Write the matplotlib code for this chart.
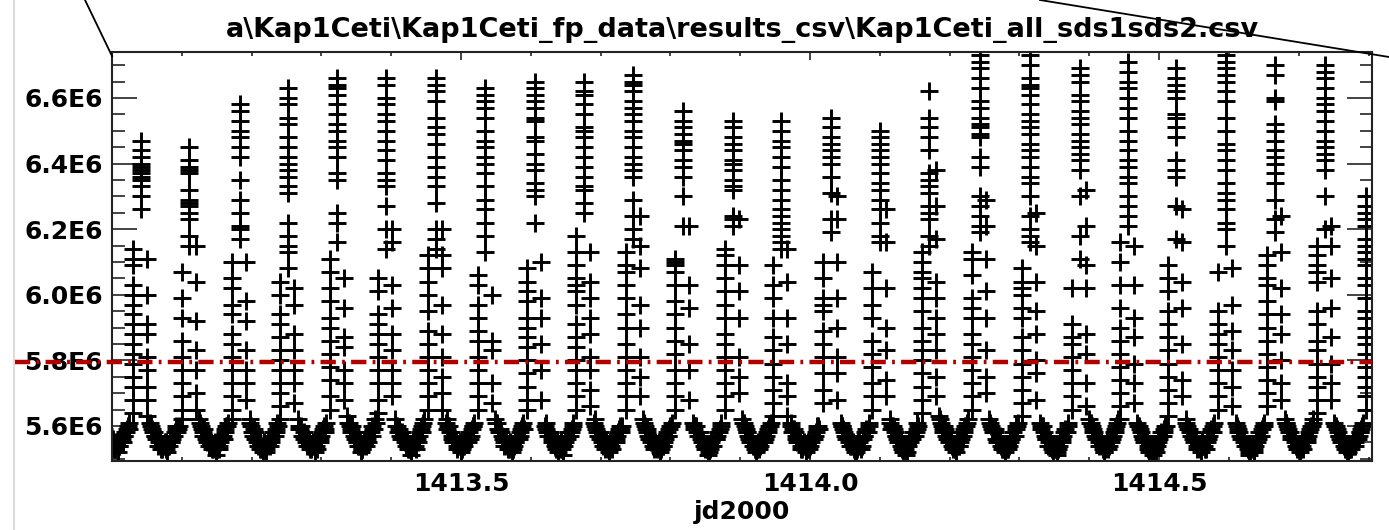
import numpy as np
import matplotlib
matplotlib.use('Agg')
from matplotlib import pyplot as plt
from matplotlib.lines import Line2D
from matplotlib.ticker import MultipleLocator

# ---- data (flux in units of 1E6) ----
title = r'a\Kap1Ceti\Kap1Ceti_fp_data\results_csv\Kap1Ceti_all_sds1sds2.csv'
x_label = 'jd2000'
x_ticks = [1413.5, 1414.0, 1414.5]
x_tick_labels = ['1413.5', '1414.0', '1414.5']
y_ticks = [5.6e6, 5.8e6, 6.0e6, 6.2e6, 6.4e6, 6.6e6]
y_tick_labels = ['5.6E6', '5.8E6', '6.0E6', '6.2E6', '6.4E6', '6.6E6']
x_range = (1413.0, 1414.805)
y_range = (5.493e6, 6.74e6)
threshold = 5.795e6

# start time (jd2000) of each burst
burst_start = [1412.959, 1413.030, 1413.100, 1413.172, 1413.241, 1413.312,
               1413.381, 1413.453, 1413.524, 1413.595, 1413.665, 1413.736,
               1413.807, 1413.878, 1413.947, 1414.019, 1414.089, 1414.160,
               1414.232, 1414.304, 1414.375, 1414.444, 1414.513, 1414.585,
               1414.655, 1414.726, 1414.797]

# rising edge of each burst
rise_vals = [
    [],
    [6.14, 6.11, 6.09, 6.03, 6.00, 5.97, 5.94, 5.91, 5.88, 5.85, 5.82, 5.79, 5.75, 5.72, 5.68, 5.64],
    [6.07, 5.99, 5.93, 5.86, 5.81, 5.77, 5.73, 5.69, 5.65, 5.62],
    [6.10, 6.05, 6.02, 5.97, 5.94, 5.88, 5.85, 5.81, 5.77, 5.73, 5.69, 5.65, 5.62],
    [6.04, 6.00, 5.94, 5.91, 5.87, 5.83, 5.80, 5.77, 5.73, 5.70, 5.66, 5.62],
    [6.11, 6.07, 6.02, 5.98, 5.93, 5.90, 5.86, 5.82, 5.78, 5.74, 5.69, 5.65],
    [6.05, 6.01, 5.94, 5.91, 5.88, 5.85, 5.81, 5.77, 5.73, 5.68, 5.64],
    [6.12, 6.08, 6.04, 6.00, 5.95, 5.89, 5.85, 5.81, 5.77, 5.73, 5.69, 5.65],
    [6.06, 6.03, 5.97, 5.93, 5.89, 5.86, 5.81, 5.77, 5.73, 5.69, 5.65],
    [6.08, 6.04, 6.01, 5.98, 5.93, 5.90, 5.87, 5.84, 5.80, 5.76, 5.72, 5.68, 5.65],
    [6.18, 6.13, 6.09, 6.05, 6.03, 6.01, 5.97, 5.91, 5.87, 5.84, 5.80, 5.77, 5.73, 5.69, 5.65],
    [6.13, 6.09, 6.07, 6.03, 5.99, 5.94, 5.90, 5.85, 5.81, 5.77, 5.73, 5.69, 5.65],
    [6.11, 6.10, 6.09, 6.07, 6.03, 5.98, 5.94, 5.90, 5.86, 5.82, 5.77, 5.73, 5.69, 5.65],
    [6.14, 6.12, 6.09, 6.05, 6.01, 5.97, 5.93, 5.88, 5.85, 5.81, 5.77, 5.73, 5.69, 5.65],
    [6.09, 6.03, 5.99, 5.93, 5.87, 5.83, 5.79, 5.75, 5.71, 5.67, 5.63],
    [6.10, 6.05, 5.99, 5.97, 5.95, 5.89, 5.85, 5.81, 5.76, 5.71, 5.67],
    [6.07, 6.02, 5.97, 5.93, 5.86, 5.82, 5.78, 5.73, 5.69, 5.65],
    [6.13, 6.10, 6.07, 6.05, 6.02, 5.99, 5.95, 5.90, 5.86, 5.83, 5.80, 5.76, 5.72, 5.68, 5.64],
    [6.13, 6.11, 6.06, 5.99, 5.96, 5.93, 5.88, 5.85, 5.81, 5.77, 5.73, 5.69, 5.65],
    [6.08, 6.04, 6.02, 6.00, 5.96, 5.93, 5.87, 5.83, 5.79, 5.75, 5.71, 5.67, 5.63],
    [6.02, 5.91, 5.87, 5.85, 5.81, 5.77, 5.73, 5.69, 5.65],
    [6.16, 6.10, 6.03, 5.96, 5.90, 5.86, 5.82, 5.78, 5.74, 5.70, 5.66, 5.62],
    [6.09, 6.05, 6.01, 5.95, 5.91, 5.87, 5.83, 5.79, 5.75, 5.71, 5.67, 5.63],
    [6.07, 5.95, 5.91, 5.88, 5.85, 5.81, 5.77, 5.73, 5.69, 5.65],
    [6.12, 6.09, 6.05, 6.03, 5.98, 5.94, 5.90, 5.86, 5.82, 5.78, 5.74, 5.70, 5.66],
    [6.15, 6.12, 6.09, 6.07, 6.04, 5.95, 5.91, 5.86, 5.83, 5.79, 5.75, 5.72, 5.68, 5.64],
    [6.30, 6.27, 6.25, 6.23, 6.21, 6.17, 6.15, 6.13, 6.11, 6.09, 6.05, 6.03, 5.99,
     5.95, 5.93, 5.90, 5.87, 5.85, 5.82, 5.78, 5.75, 5.72, 5.69, 5.65],
]

# top of each burst
peak_vals = [
    [],
    [6.47, 6.44, 6.42, 6.40, 6.39, 6.38, 6.37, 6.36, 6.35, 6.33, 6.30, 6.26],
    [6.45, 6.41, 6.39, 6.38, 6.37, 6.32, 6.29, 6.28, 6.27, 6.25, 6.23, 6.18, 6.15],
    [6.58, 6.56, 6.53, 6.50, 6.48, 6.45, 6.42, 6.35, 6.29, 6.25, 6.21, 6.20, 6.17],
    [6.63, 6.60, 6.58, 6.54, 6.52, 6.48, 6.45, 6.42, 6.40, 6.38, 6.36, 6.33, 6.31, 6.22, 6.18, 6.15, 6.13, 6.08],
    [6.66, 6.64, 6.63, 6.61, 6.58, 6.55, 6.52, 6.50, 6.47, 6.45, 6.42, 6.37, 6.35, 6.25, 6.22, 6.16],
    [6.66, 6.64, 6.60, 6.58, 6.55, 6.53, 6.50, 6.47, 6.44, 6.41, 6.37, 6.35, 6.33, 6.27, 6.20, 6.14],
    [6.66, 6.64, 6.62, 6.59, 6.54, 6.51, 6.49, 6.46, 6.42, 6.39, 6.36, 6.33, 6.28, 6.20, 6.17, 6.14],
    [6.63, 6.61, 6.59, 6.57, 6.54, 6.50, 6.47, 6.45, 6.42, 6.40, 6.37, 6.33, 6.29, 6.26, 6.22, 6.18, 6.13],
    [6.65, 6.63, 6.61, 6.59, 6.57, 6.54, 6.53, 6.48, 6.47, 6.43, 6.40, 6.38, 6.34, 6.32, 6.30, 6.22],
    [6.65, 6.62, 6.61, 6.58, 6.55, 6.51, 6.50, 6.48, 6.45, 6.42, 6.39, 6.36, 6.33, 6.32, 6.28, 6.25],
    [6.67, 6.65, 6.64, 6.62, 6.59, 6.57, 6.55, 6.53, 6.50, 6.48, 6.45, 6.42, 6.40, 6.38, 6.36, 6.29, 6.24, 6.20, 6.17],
    [6.56, 6.53, 6.51, 6.49, 6.47, 6.46, 6.44, 6.41, 6.39, 6.36, 6.30, 6.21],
    [6.53, 6.51, 6.48, 6.46, 6.44, 6.41, 6.40, 6.38, 6.35, 6.33, 6.32, 6.24, 6.23, 6.21],
    [6.53, 6.50, 6.47, 6.45, 6.42, 6.39, 6.35, 6.32, 6.29, 6.26, 6.24, 6.22, 6.20, 6.18, 6.16, 6.14],
    [6.54, 6.51, 6.48, 6.46, 6.44, 6.42, 6.40, 6.36, 6.31, 6.23, 6.19],
    [6.50, 6.48, 6.46, 6.44, 6.42, 6.40, 6.37, 6.34, 6.32, 6.29, 6.26, 6.22, 6.18, 6.16],
    [6.62, 6.54, 6.51, 6.48, 6.44, 6.37, 6.35, 6.33, 6.31, 6.27, 6.25, 6.23, 6.18, 6.15],
    [6.73, 6.71, 6.69, 6.66, 6.63, 6.59, 6.57, 6.54, 6.52, 6.51, 6.49, 6.48, 6.42, 6.39, 6.30, 6.27, 6.24, 6.21, 6.19],
    [6.73, 6.70, 6.66, 6.64, 6.63, 6.61, 6.58, 6.55, 6.53, 6.51, 6.49, 6.46, 6.44, 6.42, 6.39, 6.36, 6.34, 6.30, 6.24, 6.20, 6.18, 6.16],
    [6.69, 6.67, 6.65, 6.61, 6.59, 6.56, 6.54, 6.52, 6.49, 6.47, 6.45, 6.43, 6.41, 6.38, 6.30, 6.18, 6.11],
    [6.71, 6.68, 6.65, 6.63, 6.60, 6.57, 6.54, 6.50, 6.47, 6.44, 6.41, 6.39, 6.36, 6.34, 6.30, 6.27, 6.24, 6.21],
    [6.69, 6.66, 6.64, 6.62, 6.60, 6.55, 6.54, 6.51, 6.48, 6.41, 6.38, 6.36, 6.27, 6.17],
    [6.73, 6.71, 6.69, 6.67, 6.65, 6.62, 6.59, 6.54, 6.50, 6.46, 6.44, 6.41, 6.38, 6.34, 6.31, 6.29, 6.26, 6.22, 6.20, 6.15],
    [6.70, 6.67, 6.60, 6.59, 6.52, 6.50, 6.47, 6.44, 6.42, 6.40, 6.37, 6.34, 6.29, 6.23, 6.19],
    [6.70, 6.68, 6.66, 6.63, 6.60, 6.58, 6.56, 6.53, 6.50, 6.47, 6.45, 6.43, 6.41, 6.38, 6.30, 6.20],
    [],
]

# falling edge of each burst
fall_vals = [
    [],
    [6.11, 6.00, 5.91, 5.88, 5.81, 5.77, 5.72, 5.68, 5.63],
    [6.15, 6.04, 5.92, 5.83, 5.77, 5.70, 5.65],
    [6.10, 5.98, 5.92, 5.83, 5.77, 5.73, 5.68],
    [6.02, 5.97, 5.88, 5.83, 5.77, 5.73, 5.67],
    [6.05, 5.96, 5.87, 5.84, 5.77, 5.73, 5.68],
    [6.20, 6.16, 6.03, 5.96, 5.88, 5.83, 5.77, 5.73, 5.69],
    [6.20, 6.12, 6.08, 5.97, 5.88, 5.81, 5.75, 5.70, 5.65],
    [6.00, 5.86, 5.83, 5.73, 5.67],
    [6.10, 5.99, 5.93, 5.85, 5.77, 5.68],
    [6.13, 6.04, 5.99, 5.93, 5.88, 5.81, 5.77, 5.71, 5.66],
    [6.24, 6.15, 6.08, 5.97, 5.90, 5.81, 5.75, 5.69],
    [6.21, 6.03, 5.96, 5.85, 5.77, 5.68],
    [6.23, 6.09, 6.01, 5.93, 5.81, 5.75, 5.70],
    [6.14, 6.04, 5.93, 5.85, 5.73, 5.69, 5.63],
    [6.30, 6.23, 6.10, 5.99, 5.90, 5.81, 5.76, 5.68],
    [6.26, 6.16, 6.02, 5.90, 5.83, 5.74, 5.69],
    [6.38, 6.27, 6.17, 6.04, 5.99, 5.93, 5.88, 5.83, 5.75, 5.69],
    [6.29, 6.21, 6.11, 6.01, 5.93, 5.83, 5.75, 5.70],
    [6.25, 6.15, 6.04, 5.95, 5.88, 5.80, 5.76, 5.68],
    [6.32, 6.21, 6.09, 6.02, 5.88, 5.82, 5.73, 5.66],
    [6.15, 6.03, 5.93, 5.87, 5.79, 5.73, 5.67],
    [6.26, 6.16, 6.04, 5.96, 5.85, 5.74, 5.69],
    [6.08, 5.97, 5.89, 5.83, 5.77, 5.72, 5.66],
    [6.24, 6.13, 6.02, 5.94, 5.88, 5.80, 5.73, 5.68],
    [6.21, 6.15, 6.05, 5.96, 5.87, 5.79, 5.73, 5.68],
    [],
]

# quiet level between bursts, in time order (sds1 samples)
floor_vals = [
    [5.60, 5.58, 5.59, 5.56, 5.57, 5.55, 5.54, 5.56, 5.53, 5.55, 5.52, 5.54, 5.56, 5.55, 5.57, 5.58, 5.60, 5.59],
    [5.61, 5.59, 5.58, 5.57, 5.56, 5.55, 5.56, 5.53, 5.54, 5.55, 5.52, 5.54, 5.55, 5.56, 5.57, 5.59, 5.58, 5.60],
    [5.62, 5.60, 5.58, 5.59, 5.56, 5.57, 5.54, 5.55, 5.53, 5.54, 5.51, 5.55, 5.53, 5.56, 5.57, 5.58, 5.60, 5.61],
    [5.61, 5.60, 5.57, 5.58, 5.56, 5.54, 5.55, 5.53, 5.52, 5.54, 5.53, 5.55, 5.54, 5.56, 5.58, 5.57, 5.59, 5.60],
    [5.62, 5.59, 5.60, 5.57, 5.58, 5.55, 5.56, 5.54, 5.53, 5.55, 5.52, 5.54, 5.56, 5.55, 5.57, 5.59, 5.58, 5.61],
    [5.63, 5.61, 5.59, 5.60, 5.57, 5.56, 5.55, 5.54, 5.52, 5.53, 5.55, 5.54, 5.56, 5.57, 5.58, 5.60, 5.59, 5.61],
    [5.62, 5.60, 5.59, 5.57, 5.58, 5.56, 5.54, 5.55, 5.53, 5.51, 5.54, 5.55, 5.53, 5.56, 5.57, 5.59, 5.60, 5.62],
    [5.61, 5.59, 5.60, 5.58, 5.56, 5.57, 5.55, 5.53, 5.54, 5.52, 5.55, 5.54, 5.56, 5.55, 5.58, 5.57, 5.60, 5.61],
    [5.62, 5.61, 5.58, 5.59, 5.57, 5.55, 5.56, 5.54, 5.53, 5.55, 5.52, 5.54, 5.55, 5.57, 5.56, 5.58, 5.60, 5.59],
    [5.60, 5.59, 5.57, 5.58, 5.56, 5.55, 5.54, 5.55, 5.52, 5.53, 5.54, 5.51, 5.55, 5.56, 5.58, 5.57, 5.59, 5.61],
    [5.61, 5.60, 5.58, 5.57, 5.58, 5.55, 5.56, 5.53, 5.54, 5.52, 5.55, 5.53, 5.56, 5.55, 5.57, 5.59, 5.58, 5.60],
    [5.62, 5.60, 5.59, 5.57, 5.56, 5.57, 5.54, 5.55, 5.53, 5.54, 5.52, 5.55, 5.54, 5.56, 5.58, 5.57, 5.60, 5.61],
    [5.61, 5.59, 5.60, 5.57, 5.58, 5.56, 5.55, 5.53, 5.54, 5.51, 5.53, 5.55, 5.54, 5.57, 5.56, 5.58, 5.59, 5.60],
    [5.62, 5.61, 5.59, 5.58, 5.56, 5.57, 5.55, 5.54, 5.52, 5.54, 5.53, 5.55, 5.56, 5.55, 5.57, 5.58, 5.60, 5.61],
    [5.60, 5.58, 5.59, 5.57, 5.55, 5.56, 5.54, 5.53, 5.55, 5.52, 5.54, 5.53, 5.55, 5.57, 5.56, 5.58, 5.60, 5.59],
    [5.61, 5.60, 5.58, 5.56, 5.57, 5.55, 5.54, 5.55, 5.53, 5.52, 5.54, 5.55, 5.53, 5.56, 5.57, 5.59, 5.58, 5.61],
    [5.62, 5.59, 5.60, 5.58, 5.57, 5.55, 5.56, 5.54, 5.52, 5.53, 5.51, 5.54, 5.55, 5.56, 5.58, 5.57, 5.59, 5.60],
    [5.63, 5.61, 5.59, 5.60, 5.57, 5.58, 5.55, 5.56, 5.53, 5.54, 5.52, 5.55, 5.54, 5.56, 5.57, 5.59, 5.60, 5.62],
    [5.62, 5.60, 5.58, 5.59, 5.56, 5.55, 5.57, 5.54, 5.53, 5.52, 5.54, 5.53, 5.55, 5.56, 5.58, 5.57, 5.60, 5.61],
    [5.61, 5.59, 5.60, 5.57, 5.56, 5.54, 5.55, 5.53, 5.52, 5.54, 5.51, 5.53, 5.55, 5.56, 5.57, 5.59, 5.58, 5.61],
    [5.62, 5.61, 5.59, 5.58, 5.56, 5.57, 5.54, 5.55, 5.53, 5.52, 5.54, 5.53, 5.56, 5.55, 5.57, 5.58, 5.60, 5.62],
    [5.61, 5.60, 5.58, 5.57, 5.55, 5.56, 5.54, 5.52, 5.53, 5.51, 5.54, 5.52, 5.55, 5.56, 5.58, 5.57, 5.59, 5.60],
    [5.62, 5.60, 5.59, 5.57, 5.58, 5.55, 5.56, 5.53, 5.54, 5.52, 5.55, 5.54, 5.53, 5.56, 5.57, 5.59, 5.58, 5.61],
    [5.61, 5.59, 5.58, 5.56, 5.57, 5.55, 5.54, 5.53, 5.51, 5.53, 5.54, 5.52, 5.55, 5.56, 5.58, 5.57, 5.60, 5.61],
    [5.62, 5.61, 5.59, 5.58, 5.56, 5.57, 5.55, 5.53, 5.54, 5.52, 5.55, 5.53, 5.56, 5.55, 5.57, 5.59, 5.60, 5.62],
    [5.61, 5.60, 5.58, 5.57, 5.55, 5.56, 5.54, 5.53, 5.52, 5.54, 5.53, 5.55, 5.54, 5.57, 5.56, 5.58, 5.59, 5.61],
    [],
]

# quiet level, interleaved samples (sds2)
floor_vals_b = [
    [5.59, 5.57, 5.56, 5.55, 5.56, 5.54, 5.55, 5.54, 5.53, 5.55, 5.54, 5.55, 5.56, 5.57, 5.58, 5.59, 5.61],
    [5.60, 5.58, 5.57, 5.56, 5.54, 5.55, 5.53, 5.54, 5.55, 5.53, 5.54, 5.56, 5.55, 5.57, 5.58, 5.60, 5.59],
    [5.61, 5.59, 5.57, 5.57, 5.55, 5.56, 5.54, 5.53, 5.54, 5.55, 5.53, 5.54, 5.55, 5.57, 5.56, 5.59, 5.60],
    [5.62, 5.58, 5.59, 5.56, 5.55, 5.56, 5.53, 5.54, 5.55, 5.52, 5.54, 5.56, 5.55, 5.57, 5.58, 5.58, 5.61],
    [5.60, 5.59, 5.57, 5.56, 5.57, 5.54, 5.55, 5.53, 5.54, 5.54, 5.55, 5.53, 5.57, 5.56, 5.58, 5.60, 5.59],
    [5.61, 5.60, 5.58, 5.58, 5.56, 5.55, 5.54, 5.55, 5.53, 5.54, 5.56, 5.55, 5.55, 5.58, 5.57, 5.59, 5.62],
    [5.60, 5.58, 5.58, 5.56, 5.57, 5.55, 5.55, 5.53, 5.54, 5.53, 5.55, 5.54, 5.56, 5.55, 5.58, 5.58, 5.61],
    [5.62, 5.60, 5.58, 5.57, 5.55, 5.56, 5.54, 5.54, 5.55, 5.53, 5.54, 5.55, 5.55, 5.57, 5.56, 5.59, 5.60],
    [5.61, 5.59, 5.59, 5.58, 5.56, 5.54, 5.55, 5.53, 5.54, 5.54, 5.53, 5.55, 5.56, 5.56, 5.57, 5.59, 5.61],
    [5.61, 5.58, 5.58, 5.57, 5.55, 5.56, 5.53, 5.54, 5.54, 5.55, 5.53, 5.54, 5.56, 5.57, 5.57, 5.58, 5.60],
    [5.62, 5.59, 5.57, 5.56, 5.57, 5.54, 5.55, 5.55, 5.53, 5.54, 5.54, 5.55, 5.55, 5.56, 5.58, 5.60, 5.59],
    [5.61, 5.59, 5.58, 5.56, 5.55, 5.56, 5.53, 5.54, 5.54, 5.55, 5.53, 5.54, 5.55, 5.57, 5.57, 5.59, 5.60],
    [5.60, 5.60, 5.58, 5.58, 5.57, 5.55, 5.54, 5.54, 5.53, 5.52, 5.54, 5.54, 5.56, 5.56, 5.57, 5.58, 5.61],
    [5.61, 5.60, 5.58, 5.57, 5.55, 5.56, 5.54, 5.53, 5.53, 5.55, 5.54, 5.56, 5.55, 5.56, 5.58, 5.59, 5.60],
    [5.61, 5.59, 5.58, 5.56, 5.56, 5.55, 5.53, 5.54, 5.54, 5.53, 5.55, 5.54, 5.56, 5.56, 5.57, 5.59, 5.60],
    [5.60, 5.59, 5.57, 5.57, 5.56, 5.54, 5.55, 5.54, 5.52, 5.53, 5.55, 5.54, 5.54, 5.57, 5.58, 5.58, 5.60],
    [5.61, 5.60, 5.59, 5.57, 5.56, 5.56, 5.55, 5.53, 5.53, 5.54, 5.52, 5.55, 5.56, 5.57, 5.57, 5.58, 5.61],
    [5.62, 5.60, 5.58, 5.59, 5.56, 5.57, 5.56, 5.54, 5.54, 5.53, 5.55, 5.54, 5.55, 5.57, 5.58, 5.60, 5.61],
    [5.61, 5.59, 5.59, 5.58, 5.55, 5.56, 5.55, 5.53, 5.54, 5.53, 5.53, 5.54, 5.56, 5.57, 5.57, 5.59, 5.60],
    [5.60, 5.60, 5.58, 5.56, 5.57, 5.55, 5.54, 5.54, 5.53, 5.53, 5.52, 5.54, 5.56, 5.55, 5.58, 5.58, 5.60],
    [5.61, 5.60, 5.58, 5.57, 5.57, 5.55, 5.55, 5.54, 5.52, 5.53, 5.55, 5.54, 5.55, 5.56, 5.58, 5.59, 5.61],
    [5.60, 5.59, 5.57, 5.56, 5.56, 5.55, 5.53, 5.53, 5.52, 5.53, 5.53, 5.54, 5.56, 5.57, 5.57, 5.58, 5.60],
    [5.61, 5.59, 5.58, 5.58, 5.56, 5.56, 5.54, 5.54, 5.53, 5.54, 5.54, 5.53, 5.55, 5.57, 5.58, 5.58, 5.60],
    [5.60, 5.58, 5.57, 5.57, 5.56, 5.54, 5.54, 5.52, 5.52, 5.54, 5.53, 5.54, 5.55, 5.57, 5.57, 5.59, 5.60],
    [5.61, 5.60, 5.58, 5.57, 5.57, 5.56, 5.54, 5.54, 5.53, 5.53, 5.54, 5.55, 5.55, 5.56, 5.58, 5.60, 5.61],
    [5.60, 5.59, 5.57, 5.56, 5.56, 5.55, 5.53, 5.52, 5.53, 5.53, 5.54, 5.54, 5.55, 5.56, 5.57, 5.58, 5.60],
    [],
]

# time offsets (days) of the burst parts relative to burst start
peak_dt = 0.011
fall_dt = 0.020
floor_dt = (0.025, 0.066)


def collect_points():
    """ flatten the burst lists into jd / flux arrays """
    jd = []
    flux = []
    for t0, r, p, f, q, qb in zip(burst_start, rise_vals, peak_vals, fall_vals,
                                  floor_vals, floor_vals_b):
        jd += [t0] * len(r) + [t0 + peak_dt] * len(p) + [t0 + fall_dt] * len(f)
        flux += r + p + f
        if q:
            tq = t0 + np.linspace(floor_dt[0], floor_dt[1], len(q))
            jd += list(tq)
            flux += q
            # second series sits between the first one's samples
            jd += list(0.5 * (tq[:-1] + tq[1:]))
            flux += qb
    return np.array(jd), np.array(flux) * 1e6


def main():
    plt.rcParams['font.family'] = ['DejaVu Sans']
    plt.rcParams['font.weight'] = 'bold'
    plt.rcParams['font.size'] = 18
    plt.rcParams['lines.scale_dashes'] = False

    fig = plt.figure(figsize=(13.89, 5.30), dpi=100)
    ax = fig.add_axes([112 / 1389, 1 - 461 / 530, 1260 / 1389, 409 / 530])

    jd, flux = collect_points()
    ax.plot(jd, flux, linestyle='none', marker='+', color='black',
            markersize=13.5, markeredgewidth=2.1, zorder=2)

    ax.axhline(threshold, xmin=-0.077, xmax=1.0, color='#b00000', linewidth=3.2,
               dashes=(11, 4.5, 2, 4.5), clip_on=False, zorder=4)

    ax.set_xlim(*x_range)
    ax.set_ylim(*y_range)
    ax.set_xticks(x_ticks)
    ax.set_xticklabels(x_tick_labels)
    ax.set_yticks(y_ticks)
    ax.set_yticklabels(y_tick_labels)
    ax.xaxis.set_minor_locator(MultipleLocator(0.1))
    ax.yaxis.set_minor_locator(MultipleLocator(0.05e6))

    ax.tick_params(axis='both', which='both', direction='in', top=True, right=True,
                   color='#222222', width=1.2)
    ax.tick_params(axis='y', which='major', length=18, pad=6.5)
    ax.tick_params(axis='y', which='minor', length=9)
    ax.tick_params(axis='x', which='major', length=6, pad=8)
    ax.tick_params(axis='x', which='minor', length=3)
    for s in ax.spines.values():
        s.set_linewidth(1.5)
        s.set_color('#222222')

    ax.set_title(title, fontsize=19.5, fontweight='bold', pad=11)
    ax.set_xlabel(x_label, fontsize=18, fontweight='bold', labelpad=3)

    # screenshot frame: call-out lines and left border
    fig.add_artist(Line2D([85 / 1389, 112 / 1389], [1.0, 1 - 56 / 530],
                          transform=fig.transFigure, color='black', linewidth=1.3))
    fig.add_artist(Line2D([1040 / 1389, 1.0], [1.0, 1 - 57 / 530],
                          transform=fig.transFigure, color='black', linewidth=1.3))
    fig.add_artist(Line2D([14 / 1389, 14 / 1389], [0.0, 1.0],
                          transform=fig.transFigure, color='#dcdcdc', linewidth=1.5))

    fig.savefig('out.png', dpi=100)


if __name__ == '__main__':
    main()
